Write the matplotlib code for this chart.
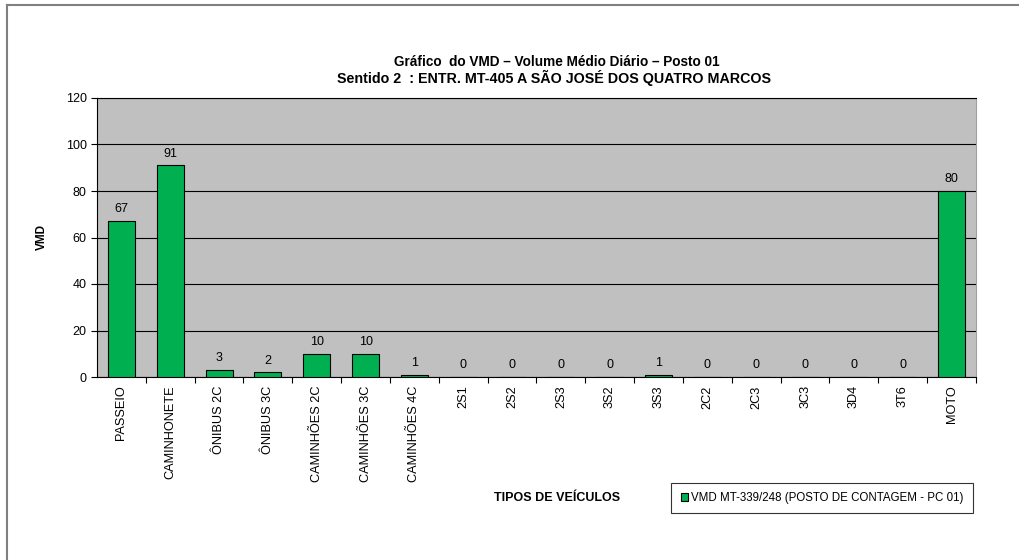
import matplotlib
matplotlib.use('Agg')
import matplotlib.pyplot as plt
from matplotlib.lines import Line2D

plt.rcParams['font.family'] = ['Liberation Sans', 'DejaVu Sans']

# vehicle classes and daily volume
categorias = ['PASSEIO', 'CAMINHONETE', 'ÔNIBUS 2C', 'ÔNIBUS 3C', 'CAMINHÕES 2C',
              'CAMINHÕES 3C', 'CAMINHÕES 4C', '2S1', '2S2', '2S3', '3S2', '3S3',
              '2C2', '2C3', '3C3', '3D4', '3T6', 'MOTO']
vmd = [67, 91, 3, 2, 10, 10, 1, 0, 0, 0, 0, 1, 0, 0, 0, 0, 0, 80]
y_ticks = [0, 20, 40, 60, 80, 100, 120]

fig = plt.figure(figsize=(10.2, 5.6), dpi=100)
ax = fig.add_axes([97/1020, 1-377/560, 879/1020, 279/560])

# outer frame (only top and left edges fall inside the image)
fig.add_artist(Line2D([7/1020, 7/1020], [0, 1-5/560], color='#808080', lw=1.5))
fig.add_artist(Line2D([7/1020, 1], [1-5/560, 1-5/560], color='#808080', lw=1.5))

ax.set_facecolor('#C0C0C0')
x = list(range(len(categorias)))
bars = ax.bar(x, vmd, width=0.55, color='#00B050', edgecolor='black', linewidth=0.8,
              zorder=3, label='VMD MT-339/248 (POSTO DE CONTAGEM - PC 01)')

for xi, v in zip(x, vmd):
    ax.text(xi, v + 2.5, str(v), ha='center', va='bottom', fontsize=9)

ax.set_xlim(-0.5, len(categorias) - 0.5)
ax.set_ylim(0, 120)
ax.set_yticks(y_ticks)
ax.yaxis.grid(True, color='black', linewidth=0.8, zorder=1)
ax.set_axisbelow(True)
ax.tick_params(axis='y', labelsize=9, length=4, direction='out')

# ticks between categories, labels centered under bars
ax.set_xticks([i + 0.5 for i in range(len(categorias))])
ax.set_xticklabels([])
ax.set_xticks(x, minor=True)
ax.set_xticklabels(categorias, minor=True, rotation=90, fontsize=9.2)
ax.tick_params(axis='x', which='major', length=4, direction='out')
ax.tick_params(axis='x', which='minor', length=0, pad=6)

for s in ['left', 'bottom', 'top']:
    ax.spines[s].set_color('black')
    ax.spines[s].set_linewidth(0.8)
ax.spines['right'].set_color('#A0A0A0')

ax.set_ylabel('VMD', fontsize=8.5, fontweight='bold', labelpad=13)

fig.text(557/1020, 1-62/560, 'Gráfico  do VMD – Volume Médio Diário – Posto 01',
         ha='center', va='center', fontsize=9.8, fontweight='bold')
fig.text(554/1020, 1-78/560, 'Sentido 2  : ENTR. MT-405 A SÃO JOSÉ DOS QUATRO MARCOS',
         ha='center', va='center', fontsize=10.3, fontweight='bold')
fig.text(557/1020, 1-498/560, 'TIPOS DE VEÍCULOS', ha='center', va='center',
         fontsize=9, fontweight='bold')

leg = fig.legend(handles=[bars], loc='center', bbox_to_anchor=(822/1020, 1-498/560),
                 fontsize=8.3, frameon=True, fancybox=False, edgecolor='black',
                 handlelength=0.6, handleheight=0.6, handletextpad=0.3,
                 borderpad=0.8, borderaxespad=0)
leg.get_frame().set_linewidth(0.8)

fig.savefig('out.png', dpi=100)
